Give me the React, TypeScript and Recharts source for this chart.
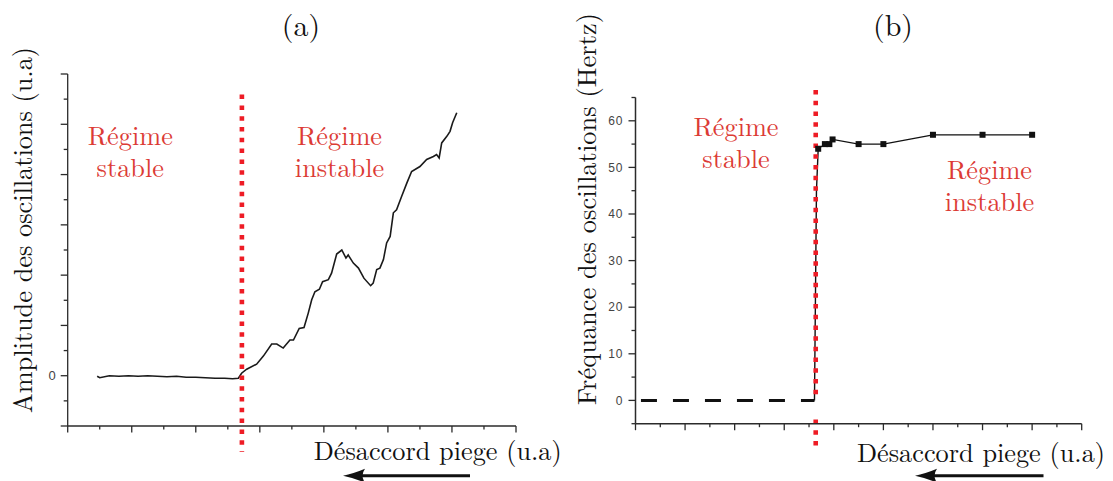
import React from 'react';
import { LineChart, Line, XAxis, YAxis, ReferenceLine } from 'recharts';

// (a) oscillation amplitude vs trap detuning (arbitrary units)
const ampX = [
  0.92, 1.0, 1.3, 1.6, 1.9, 2.2, 2.5, 2.8, 3.1, 3.4, 3.7, 4.0, 4.3, 4.6, 4.9, 5.15, 5.33,
  5.43, 5.59, 5.9, 6.11, 6.37, 6.53, 6.73, 6.94, 7.05, 7.23, 7.38, 7.51, 7.62, 7.72,
  7.86, 7.96, 8.14, 8.24, 8.4, 8.56, 8.69, 8.76, 8.92, 9.08, 9.25, 9.46, 9.54, 9.65,
  9.75, 9.86, 9.96, 10.07, 10.17, 10.27, 10.43, 10.59, 10.74, 11.0, 11.21, 11.42,
  11.52, 11.6, 11.68, 11.84, 11.94, 12.02, 12.15,
];
const ampY = [
  -0.01, -0.04, 0.0, -0.01, 0.0, -0.01, 0.0, -0.01, -0.02, -0.01, -0.03, -0.03, -0.04,
  -0.05, -0.05, -0.06, -0.05,
  0.05, 0.13, 0.23, 0.39, 0.63, 0.63, 0.55, 0.71, 0.71, 0.94, 0.96, 1.24, 1.51, 1.67,
  1.72, 1.87, 1.91, 2.04, 2.42, 2.5, 2.34, 2.4, 2.24, 2.14, 1.94, 1.79, 1.84, 2.11,
  2.14, 2.31, 2.64, 2.77, 3.24, 3.3, 3.57, 3.83, 4.06, 4.16, 4.3, 4.36,
  4.4, 4.33, 4.63, 4.76, 4.86, 5.03, 5.23,
];
const ampBoundaryX = 5.44;

// (b) oscillation frequency (Hz) vs trap detuning
const freqX = [7.37, 7.64, 7.82, 7.95, 9, 10, 12, 14, 16];
const freqY = [54, 55, 55, 56, 55, 55, 57, 57, 57];
const jumpX = [7.22, 7.3, 7.37];
const jumpY = [0, 45, 54];
const stableX = [0.22, 7.22];
const stableY = [0, 0];
const freqBoundaryX = 7.27;

const ampXTicks = [0, 1, 2, 3, 4, 5, 6, 7, 8, 9, 10, 11, 12, 13, 14];
const ampYTicks = [-1, -0.5, 0, 0.5, 1, 1.5, 2, 2.5, 3, 3.5, 4, 4.5, 5, 5.5, 6];
const ampYLabels = [0];
const freqXTicks = [0, 1, 2, 3, 4, 5, 6, 7, 8, 9, 10, 11, 12, 13, 14, 15, 16, 17, 18];
const freqYTicks = [-5, 0, 5, 10, 15, 20, 25, 30, 35, 40, 45, 50, 55, 60, 65];
const freqYLabels = [0, 10, 20, 30, 40, 50, 60];

const zip = (xs: number[], ys: number[]) => xs.map((x, i) => ({ x, y: ys[i] }));

const AXIS = '#2b2b2b';
const RED = '#ee1c25';
const RED_TEXT = '#dc3b35';
const SERIF = '"Latin Modern Roman"';
const SANS = '"Liberation Sans"';

const XTick = (props: any) => {
  const { x, y, payload } = props;
  const len = payload.value % 2 === 0 ? 6.5 : 3.5;
  return <line x1={x} y1={y} x2={x} y2={y + len} stroke={AXIS} strokeWidth={1.3} />;
};

const makeYTick = (isMajor: (v: number) => boolean, labels: number[], fontSize: number, spacing: number) =>
  (props: any) => {
    const { x, y, payload } = props;
    const v = payload.value;
    const len = isMajor(v) ? 7 : 4;
    return (
      <g>
        <line x1={x - len} y1={y} x2={x} y2={y} stroke={AXIS} strokeWidth={1.3} />
        {labels.includes(v) && (
          <text
            x={x - len - 5}
            y={y}
            dy="0.35em"
            textAnchor="end"
            style={{ fontFamily: SANS, fontSize, letterSpacing: spacing }}
            fill="#444"
          >
            {v}
          </text>
        )}
      </g>
    );
  };

const AmpYTick = makeYTick((v) => Number.isInteger(v), ampYLabels, 13, 0);
const FreqYTick = makeYTick((v) => v % 10 === 0 && v >= 0 && v <= 60, freqYLabels, 12, 1);

const SquareDot = (props: any) => {
  const { cx, cy } = props;
  if (cx == null || cy == null) return null;
  return <rect x={cx - 3} y={cy - 3} width={6} height={6} fill="#111" />;
};

const serif = (size: number): React.CSSProperties => ({ fontFamily: SERIF, fontSize: size });

// two-line red annotation ("Régime" / "stable|instable")
const Regime = ({ x, y, second }: { x: number; y: number; second: string }) => (
  <text x={x} y={y} style={serif(26.3)} fill={RED_TEXT} textAnchor="middle">
    <tspan x={x}>Régime</tspan>
    <tspan x={x} dy={31.6}>{second}</tspan>
  </text>
);

// latex-style arrow head pointing left, tip at (x, y)
const arrowHead = (x: number, y: number) =>
  `M${x},${y} Q${x + 10},${y - 2} ${x + 22},${y - 7} Q${x + 17},${y} ${x + 22},${y + 7} Q${x + 10},${y + 2} ${x},${y} Z`;

const App: React.FC = () => {
  return (
    <div style={{ position: 'absolute', left: 0, top: 0, width: 1113, height: 481, background: '#fff' }}>
      {/* (a) amplitude */}
      <div style={{ position: 'absolute', left: 0, top: 0 }}>
        <LineChart width={560} height={481} margin={{ top: 74, right: 44, bottom: 54, left: 66.7 }}>
          <XAxis
            type="number"
            dataKey="x"
            domain={[0, 14]}
            ticks={ampXTicks}
            height={1}
            tickSize={0}
            tickMargin={0}
            tickLine={false}
            tick={XTick}
            interval={0}
            axisLine={{ stroke: AXIS, strokeWidth: 1.3 }}
          />
          <YAxis
            type="number"
            dataKey="y"
            domain={[-1, 6]}
            ticks={ampYTicks}
            width={1}
            tickSize={0}
            tickMargin={0}
            tickLine={false}
            tick={AmpYTick}
            interval={0}
            axisLine={{ stroke: AXIS, strokeWidth: 1.3 }}
          />
          <Line
            data={zip(ampX, ampY)}
            dataKey="y"
            type="linear"
            stroke="#1a1a1a"
            strokeWidth={1.6}
            dot={false}
            isAnimationActive={false}
          />
          <ReferenceLine
            segment={[{ x: ampBoundaryX, y: 5.59 }, { x: ampBoundaryX, y: -1.51 }]}
            ifOverflow="visible"
            stroke={RED}
            strokeWidth={4.6}
            strokeDasharray="4.5 6.3"
          />
        </LineChart>
      </div>

      {/* (b) frequency */}
      <div style={{ position: 'absolute', left: 560, top: 0 }}>
        <LineChart width={553} height={481} margin={{ top: 97.5, right: 31.3, bottom: 56.3, left: 74.5 }}>
          <XAxis
            type="number"
            dataKey="x"
            domain={[0, 18]}
            ticks={freqXTicks}
            height={1}
            tickSize={0}
            tickMargin={0}
            tickLine={false}
            tick={XTick}
            interval={0}
            axisLine={{ stroke: AXIS, strokeWidth: 1.5 }}
          />
          <YAxis
            type="number"
            dataKey="y"
            domain={[-5, 65]}
            ticks={freqYTicks}
            width={1}
            tickSize={0}
            tickMargin={0}
            tickLine={false}
            tick={FreqYTick}
            interval={0}
            axisLine={{ stroke: AXIS, strokeWidth: 1.5 }}
          />
          <Line
            data={zip(stableX, stableY)}
            dataKey="y"
            stroke="#111"
            strokeWidth={3}
            strokeDasharray="16 16"
            dot={false}
            isAnimationActive={false}
          />
          <Line
            data={zip(jumpX, jumpY)}
            dataKey="y"
            stroke="#111"
            strokeWidth={1.4}
            dot={false}
            isAnimationActive={false}
          />
          <Line
            data={zip(freqX, freqY)}
            dataKey="y"
            stroke="#111"
            strokeWidth={1.3}
            dot={<SquareDot />}
            isAnimationActive={false}
          />
          <ReferenceLine
            segment={[{ x: freqBoundaryX, y: 66.6 }, { x: freqBoundaryX, y: 0.2 }]}
            ifOverflow="visible"
            stroke={RED}
            strokeWidth={4.6}
            strokeDasharray="4.5 6.2"
          />
          <ReferenceLine
            segment={[{ x: freqBoundaryX, y: -4.1 }, { x: freqBoundaryX, y: -9.8 }]}
            ifOverflow="visible"
            stroke={RED}
            strokeWidth={4.6}
            strokeDasharray="4.5 6.2"
          />
        </LineChart>
      </div>

      {/* titles, labels, annotations */}
      <svg width={1113} height={481} style={{ position: 'absolute', left: 0, top: 0, pointerEvents: 'none' }}>
        <text x={301} y={36} style={serif(30)} textAnchor="middle" fill="#111">(a)</text>
        <text x={893} y={36} style={serif(30)} textAnchor="middle" fill="#111">(b)</text>

        <text x={31.7} y={230} style={serif(26.3)} textAnchor="middle" transform="rotate(-90 31.7 230)" fill="#111"
          textLength={366} lengthAdjust="spacing">
          Amplitude des oscillations (u.a)
        </text>
        <text x={596} y={209} style={serif(26.3)} textAnchor="middle" transform="rotate(-90 596 209)" fill="#111"
          textLength={392} lengthAdjust="spacing">
          Fréquance des oscillations (Hertz)
        </text>

        <text x={561.7} y={460} style={serif(26.3)} textAnchor="end" fill="#111" textLength={248} lengthAdjust="spacing">
          Désaccord piege (u.a)
        </text>
        <text x={1105} y={461.7} style={serif(26.3)} textAnchor="end" fill="#111" textLength={248} lengthAdjust="spacing">
          Désaccord piege (u.a)
        </text>

        <Regime x={130.3} y={145} second="stable" />
        <Regime x={339.5} y={145} second="instable" />
        <Regime x={736} y={136.2} second="stable" />
        <Regime x={989.5} y={179} second="instable" />

        <line x1={470} y1={475.7} x2={356} y2={475.7} stroke="#111" strokeWidth={3} />
        <path d={arrowHead(343, 475.7)} fill="#111" />
        <line x1={1043.5} y1={475.7} x2={928} y2={475.7} stroke="#111" strokeWidth={3} />
        <path d={arrowHead(915, 475.7)} fill="#111" />
      </svg>
    </div>
  );
};

export default App;
